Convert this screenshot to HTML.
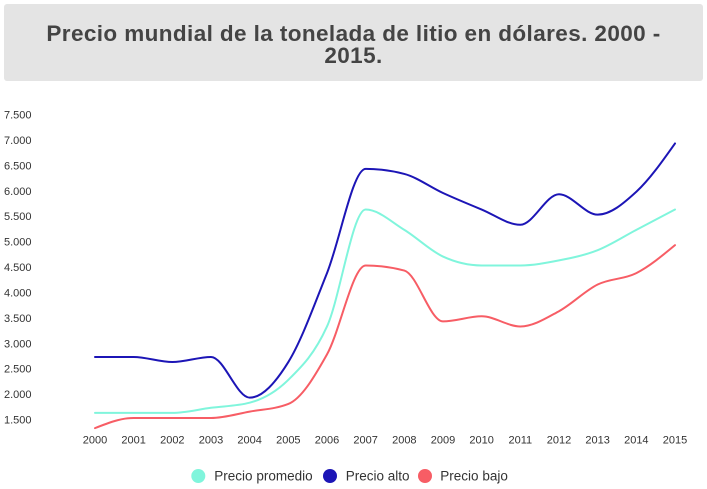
<!DOCTYPE html>
<html>
<head>
<meta charset="utf-8">
<style>
  html, body { margin:0; padding:0; background:#ffffff; }
  body { width:707px; height:489px; position:relative; overflow:hidden; font-family:"Liberation Sans", sans-serif; }
  .title {
    position:absolute; left:4px; top:4px; width:699px; height:77px;
    background:#e4e4e4; border-radius:3px;
  }
  .title div {
    position:absolute; left:0; width:699px; text-align:center;
    font-weight:bold; font-size:22.5px; letter-spacing:0.4px; color:#444;
    line-height:22px;
  }
  svg { position:absolute; left:0; top:0; }
</style>
</head>
<body>
<div class="title">
  <div style="top:19px;">Precio mundial de la tonelada de litio en dólares. 2000 -</div>
  <div style="top:41px;">2015.</div>
</div>
<svg width="707" height="489" viewBox="0 0 707 489" xmlns="http://www.w3.org/2000/svg">
  <g font-family="Liberation Sans, sans-serif" font-size="11" fill="#333" dominant-baseline="central">
    <text x="4" y="115.5">7.500</text>
    <text x="4" y="140.9">7.000</text>
    <text x="4" y="166.3">6.500</text>
    <text x="4" y="191.8">6.000</text>
    <text x="4" y="217.2">5.500</text>
    <text x="4" y="242.6">5.000</text>
    <text x="4" y="268.0">4.500</text>
    <text x="4" y="293.4">4.000</text>
    <text x="4" y="318.8">3.500</text>
    <text x="4" y="344.3">3.000</text>
    <text x="4" y="369.7">2.500</text>
    <text x="4" y="395.1">2.000</text>
    <text x="4" y="420.5">1.500</text>
  </g>
  <g font-family="Liberation Sans, sans-serif" font-size="11" fill="#333" text-anchor="middle" dominant-baseline="central">
    <text x="95" y="440.5">2000</text>
    <text x="133.67" y="440.5">2001</text>
    <text x="172.33" y="440.5">2002</text>
    <text x="211" y="440.5">2003</text>
    <text x="249.67" y="440.5">2004</text>
    <text x="288.33" y="440.5">2005</text>
    <text x="327" y="440.5">2006</text>
    <text x="365.67" y="440.5">2007</text>
    <text x="404.33" y="440.5">2008</text>
    <text x="443" y="440.5">2009</text>
    <text x="481.67" y="440.5">2010</text>
    <text x="520.33" y="440.5">2011</text>
    <text x="559" y="440.5">2012</text>
    <text x="597.67" y="440.5">2013</text>
    <text x="636.33" y="440.5">2014</text>
    <text x="675" y="440.5">2015</text>
  </g>

  <!-- Precio promedio -->
  <path fill="none" stroke="#80f5dc" stroke-width="2" stroke-linejoin="round" stroke-linecap="round"
    d="M95,412.88 C107.89,412.88 120.78,412.88 133.67,412.88 C146.56,412.88 159.44,412.88 172.33,412.88 C185.22,412.88 198.11,409.49 211,407.79 C223.89,406.09 236.78,406.10 249.67,402.71 C262.56,399.32 275.44,392.54 288.33,379.83 C301.22,367.12 314.11,354.84 327,326.46 C339.89,298.08 352.78,209.54 365.67,209.54 C378.56,209.54 391.44,222.03 404.33,229.87 C417.22,237.71 430.11,250.63 443,256.56 C455.89,262.49 468.78,265.46 481.67,265.46 C494.56,265.46 507.44,265.46 520.33,265.46 C533.22,265.46 546.11,262.92 559,260.38 C571.89,257.84 584.78,255.30 597.67,250.21 C610.56,245.12 623.44,236.65 636.33,229.87 C649.22,223.09 662.11,216.32 675,209.54"/>

  <!-- Precio alto -->
  <path fill="none" stroke="#1c15b6" stroke-width="2" stroke-linejoin="round" stroke-linecap="round"
    d="M95,356.96 C107.89,356.96 120.78,356.96 133.67,356.96 C146.56,356.96 159.44,362.04 172.33,362.04 C185.22,362.04 198.11,356.96 211,356.96 C223.89,356.96 236.78,397.63 249.67,397.63 C262.56,397.63 275.44,382.80 288.33,362.04 C301.22,341.28 314.11,305.28 327,273.08 C339.89,240.88 352.78,168.87 365.67,168.87 C378.56,168.87 391.44,170.57 404.33,173.96 C417.22,177.35 430.11,187.09 443,193.02 C455.89,198.95 468.78,204.24 481.67,209.54 C494.56,214.84 507.44,224.79 520.33,224.79 C533.22,224.79 546.11,194.29 559,194.29 C571.89,194.29 584.78,214.63 597.67,214.63 C610.56,214.63 623.44,203.61 636.33,191.75 C649.22,179.89 662.11,161.67 675,143.46"/>

  <!-- Precio bajo -->
  <path fill="none" stroke="#f75d65" stroke-width="2" stroke-linejoin="round" stroke-linecap="round"
    d="M95,428.13 C107.89,423.04 120.78,417.96 133.67,417.96 C146.56,417.96 159.44,417.96 172.33,417.96 C185.22,417.96 198.11,417.96 211,417.96 C223.89,417.96 236.78,413.93 249.67,411.60 C262.56,409.27 275.44,409.06 288.33,403.98 C301.22,398.90 314.11,377.51 327,354.42 C339.89,331.33 352.78,265.46 365.67,265.46 C378.56,265.46 391.44,267.15 404.33,270.54 C417.22,273.93 430.11,321.38 443,321.38 C455.89,321.38 468.78,316.29 481.67,316.29 C494.56,316.29 507.44,326.46 520.33,326.46 C533.22,326.46 546.11,318.20 559,311.21 C571.89,304.22 584.78,290.88 597.67,284.52 C610.56,278.16 623.44,279.65 636.33,273.08 C649.22,266.51 662.11,255.82 675,245.13"/>

  <!-- Legend -->
  <g font-family="Liberation Sans, sans-serif" font-size="13.5" fill="#333">
    <circle cx="198.3" cy="476" r="7" fill="#80f5dc"/>
    <text x="214.3" y="480.7">Precio promedio</text>
    <circle cx="330" cy="476" r="7" fill="#1c15b6"/>
    <text x="345.7" y="480.7">Precio alto</text>
    <circle cx="425" cy="476" r="7" fill="#f75d65"/>
    <text x="440.3" y="480.7">Precio bajo</text>
  </g>
</svg>
</body>
</html>
